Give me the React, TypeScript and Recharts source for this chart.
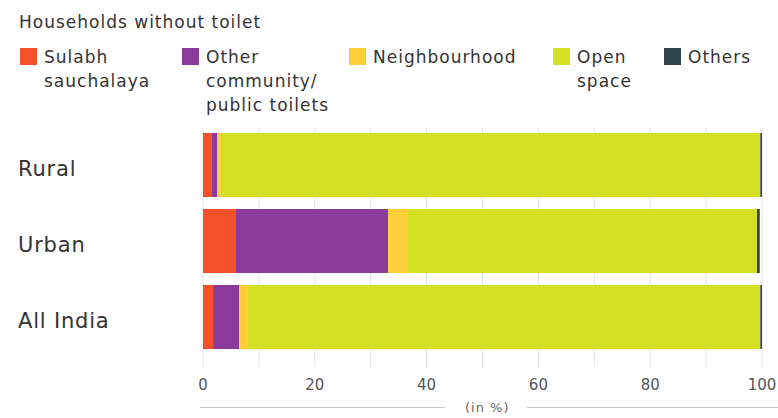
import React from 'react';
import { BarChart, Bar, XAxis, YAxis, CartesianGrid } from 'recharts';

const categories = ['Rural', 'Urban', 'All India'];
const sulabh = [1.6, 5.9, 1.8];
const otherCommunity = [0.9, 27.2, 4.7];
const neighbourhood = [0.7, 3.4, 1.4];
const openSpace = [96.5, 62.6, 91.8];
const others = [0.3, 0.5, 0.3];
const xTicks = [0, 10, 20, 30, 40, 50, 60, 70, 80, 90, 100];

const seriesKeys = [
  { key: 'sulabh', color: '#f4502a' },
  { key: 'other', color: '#8a3b9b' },
  { key: 'neigh', color: '#fdcd3c' },
  { key: 'open', color: '#d5e022' },
  { key: 'others', color: '#30454f' },
];

const data = categories.map((c, i) => ({
  name: c,
  sulabh: sulabh[i],
  other: otherCommunity[i],
  neigh: neighbourhood[i],
  open: openSpace[i],
  others: others[i],
}));

const FONT = '"DejaVu Sans", Verdana, sans-serif';

const legendItems = [
  { x: 20, color: '#f4502a', lines: ['Sulabh', 'sauchalaya'] },
  { x: 182, color: '#8a3b9b', lines: ['Other', 'community/', 'public toilets'] },
  { x: 349, color: '#fdcd3c', lines: ['Neighbourhood'] },
  { x: 553, color: '#d5e022', lines: ['Open', 'space'] },
  { x: 664, color: '#30454f', lines: ['Others'] },
];

const YTick = (props: any) => {
  const { y, payload } = props;
  return (
    <text x={18} y={y} dy={11} fontSize={21} letterSpacing={0.8} fill="#333" fontFamily={FONT} textAnchor="start">
      {payload.value}
    </text>
  );
};

const XTick = (props: any) => {
  const { x, y, payload } = props;
  if (payload.value % 20 !== 0) return null;
  return (
    <text x={x} y={y} dy={13} fontSize={15} fill="#555" fontFamily={FONT} textAnchor="middle">
      {payload.value}
    </text>
  );
};

export default function App() {
  return (
    <div style={{ position: 'absolute', left: 0, top: 0, width: 778, height: 418, background: '#fff', fontFamily: FONT }}>
      <div style={{ position: 'absolute', left: 19, top: 12, fontSize: 17, lineHeight: '20px', letterSpacing: 1, color: '#333', whiteSpace: 'nowrap' }}>
        Households without toilet
      </div>
      {legendItems.map((it) => (
        <div key={it.x} style={{ position: 'absolute', left: it.x, top: 48 }}>
          <div style={{ position: 'absolute', left: 0, top: 0, width: 17, height: 17, background: it.color }} />
          <div style={{ position: 'absolute', left: 24, top: -3, fontSize: 17, lineHeight: '24px', letterSpacing: 1, color: '#333', whiteSpace: 'nowrap' }}>
            {it.lines.map((l) => (
              <div key={l}>{l}</div>
            ))}
          </div>
        </div>
      ))}
      <div style={{ position: 'absolute', left: 0, top: 0 }}>
        <BarChart
          width={778}
          height={418}
          data={data}
          layout="vertical"
          barCategoryGap={6}
          margin={{ top: 127, right: 16, bottom: 23, left: 0 }}
        >
          <CartesianGrid horizontal={false} vertical stroke="#e2e2e2" />
          <XAxis
            type="number"
            domain={[0, 100]}
            ticks={xTicks}
            axisLine={false}
            tickLine={{ stroke: '#e2e2e2' }}
            tickSize={12}
            tickMargin={10}
            height={40}
            tick={<XTick />}
            interval={0}
          />
          <YAxis
            type="category"
            dataKey="name"
            width={203}
            axisLine={false}
            tickLine={false}
            tick={<YTick />}
          />
          {seriesKeys.map((s) => (
            <Bar key={s.key} dataKey={s.key} stackId="a" fill={s.color} isAnimationActive={false} />
          ))}
        </BarChart>
      </div>
      <div style={{ position: 'absolute', left: 200, top: 407, width: 245, height: 1, background: '#c8c8c8' }} />
      <div style={{ position: 'absolute', left: 527, top: 407, width: 251, height: 1, background: '#c8c8c8' }} />
      <div style={{ position: 'absolute', left: 465, top: 399, fontSize: 13, lineHeight: '18px', letterSpacing: 1, color: '#666', whiteSpace: 'nowrap' }}>(in %)</div>
    </div>
  );
}
